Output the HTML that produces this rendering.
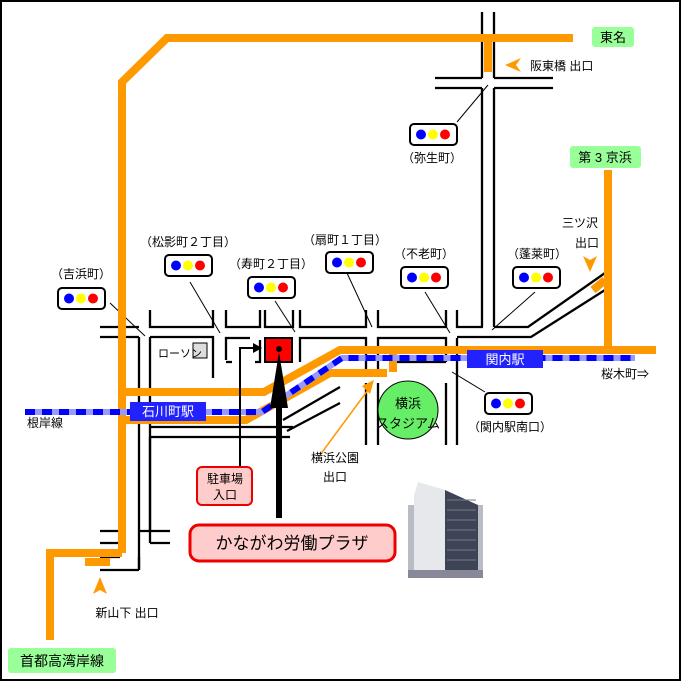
<!DOCTYPE html>
<html><head><meta charset="utf-8"><style>
html,body{margin:0;padding:0;background:#fff}
svg{display:block}
text{font-family:"Liberation Sans","Noto Sans CJK JP",sans-serif;font-size:12px;fill:#000}
</style></head><body>
<svg width="682" height="682" viewBox="0 0 682 682" xmlns="http://www.w3.org/2000/svg">
<rect x="1" y="1" width="679" height="679" fill="#fff" stroke="#000" stroke-width="2"/>
<defs>
<g id="sig"><rect x="0" y="0" width="47" height="21" rx="4" fill="#fff" stroke="#000" stroke-width="2"/><circle cx="11" cy="10.5" r="5" fill="#00f"/><circle cx="23" cy="10.5" r="5" fill="#ff0"/><circle cx="35" cy="10.5" r="5" fill="#f00"/></g>
</defs>
<g stroke="#000" stroke-width="2.3" fill="none">
<path d="M482 12V78M494 12V78M482 88V327M494 88V327"/>
<path d="M435 78H482M494 78H553M435 88H482M494 88H553"/>
<path d="M100 327H139M100 337H139M139 337V570M150 337V530"/>
<path d="M150 310V327H213V310M226 310V327H260V310M265 310V327H293V310M300 310V327H366V310M378 310V327H446V310M457 310V327H483M494 327H528L605 273M457 337H531L605 290"/>
<path d="M150 337H213V378M226 360V338H250M226 362H232M255 362H260V340M300 362V338H366V372M378 372V338H446V362M392 362H446M457 338V445M378 383V445M446 383V445M366 383V445"/>
<path d="M150 427H293M150 437V530M150 437H290M283 420L340 387M287 431L340 403"/>
<path d="M100 531H120M140 531H170M100 543H120M150 543H170M150 543V530M100 557H120M100 570H139M139 570V557"/>
</g>
<g stroke="#000" stroke-width="1" fill="none">
<path d="M457 122L488 85M110 303L145 336M190 282L220 333M275 301L295 332M347 273L372 327M425 292L450 333M535 292L492 330M485 392L452 372"/>
</g>
<g stroke="#f90" stroke-width="8" fill="none">
<path d="M122 553V82L167 38H573M488 38V72"/>
<path d="M122 392H264L340 350H656M608 170V350M605 280L593 290"/>
<path d="M122 420H246L330 373H387M393 352V372"/>
<path d="M122 553H50V640M85 562H110"/>
</g>
<path d="M320 455L368 390" stroke="#f90" stroke-width="1.5"/>
<path d="M362 386L374 380L370 394Z" fill="#f90"/>
<path d="M505 65L521 58L516 65L521 72Z" fill="#f90"/>
<path d="M590 272L583 256L590 260L597 256Z" fill="#f90"/>
<path d="M100 577L93 594L100 590L107 594Z" fill="#f90"/>
<path d="M25 412H262L342 358H635" stroke="#99f" stroke-width="6" fill="none"/>
<path d="M25 412H262L342 358H635" stroke="#00f" stroke-width="6" fill="none" stroke-dasharray="10 7"/>
<rect x="130" y="402" width="76" height="19" fill="#22f"/>
<text x="168" y="416" text-anchor="middle" style="fill:#fff;font-size:13px">石川町駅</text>
<rect x="467" y="350" width="76" height="18" fill="#22f"/>
<text x="505" y="364" text-anchor="middle" style="fill:#fff;font-size:13px">関内駅</text>
<rect x="193" y="343" width="14" height="15" fill="#ddd" stroke="#000"/>
<text x="158" y="357" style="font-size:11px">ローソン</text>
<rect x="265" y="338" width="27" height="24" fill="#f00" stroke="#000" stroke-width="2"/>
<circle cx="279" cy="349" r="3" fill="#000"/>
<path d="M240 470V348H255" stroke="#000" stroke-width="2" fill="none"/>
<path d="M262 348L253 343V353Z" fill="#000"/>
<path d="M279 352L270 408H276V518H282V408H288Z" fill="#000"/>
<ellipse cx="408" cy="410" rx="30" ry="29" fill="#6e6" stroke="#000"/>
<text x="408" y="408" text-anchor="middle" style="font-size:13px">横浜</text>
<text x="408" y="428" text-anchor="middle" style="font-size:13px">スタジアム</text>
<use href="#sig" x="410" y="124"/><use href="#sig" x="58" y="288"/><use href="#sig" x="165" y="255"/>
<use href="#sig" x="248" y="277"/><use href="#sig" x="326" y="252"/><use href="#sig" x="401" y="267"/>
<use href="#sig" x="513" y="267"/><use href="#sig" x="485" y="393"/>
<text x="432" y="162" text-anchor="middle">（弥生町）</text>
<text x="81" y="278" text-anchor="middle">（吉浜町）</text>
<text x="188" y="246" text-anchor="middle">（松影町２丁目）</text>
<text x="271" y="268" text-anchor="middle">（寿町２丁目）</text>
<text x="345" y="244" text-anchor="middle">（扇町１丁目）</text>
<text x="424" y="258" text-anchor="middle">（不老町）</text>
<text x="537" y="258" text-anchor="middle">（蓬莱町）</text>
<text x="510" y="431" text-anchor="middle">（関内駅南口）</text>
<rect x="592" y="27" width="42" height="20" rx="3" fill="#9f9"/>
<text x="613" y="42" text-anchor="middle" style="font-size:13px">東名</text>
<rect x="570" y="146" width="71" height="22" rx="3" fill="#9f9"/>
<text x="605" y="162" text-anchor="middle" style="font-size:13px">第 3 京浜</text>
<rect x="8" y="648" width="108" height="25" rx="3" fill="#9f9"/>
<text x="62" y="666" text-anchor="middle" style="font-size:14px">首都高湾岸線</text>
<text x="530" y="70">阪東橋 出口</text>
<text x="580" y="227" text-anchor="middle">三ツ沢</text>
<text x="587" y="247" text-anchor="middle">出口</text>
<text x="45" y="427" text-anchor="middle">根岸線</text>
<text x="625" y="378" text-anchor="middle">桜木町⇒</text>
<text x="335" y="462" text-anchor="middle">横浜公園</text>
<text x="335" y="481" text-anchor="middle">出口</text>
<text x="127" y="617" text-anchor="middle">新山下 出口</text>
<rect x="197" y="467" width="55" height="38" rx="5" fill="#fcc" stroke="#e00" stroke-width="2"/>
<text x="225" y="483" text-anchor="middle">駐車場</text>
<text x="225" y="499" text-anchor="middle">入口</text>
<rect x="190" y="525" width="205" height="36" rx="9" fill="#fcc" stroke="#e00" stroke-width="3"/>
<text x="292" y="549" text-anchor="middle" style="font-size:17px">かながわ労働プラザ</text>
<rect x="408" y="505" width="75" height="73" fill="#b8bcc4"/>
<path d="M418 482L445 490V578H414V495Z" fill="#e6e8ec"/>
<path d="M445 490L478 505V578H445Z" fill="#3c4456"/>
<g stroke="#778" stroke-width="1"><path d="M447 500H476M447 510H476M447 520H476M447 530H476M447 540H476M447 550H476M447 560H476"/></g>
<rect x="408" y="570" width="75" height="8" fill="#889"/>
</svg>
</body></html>
